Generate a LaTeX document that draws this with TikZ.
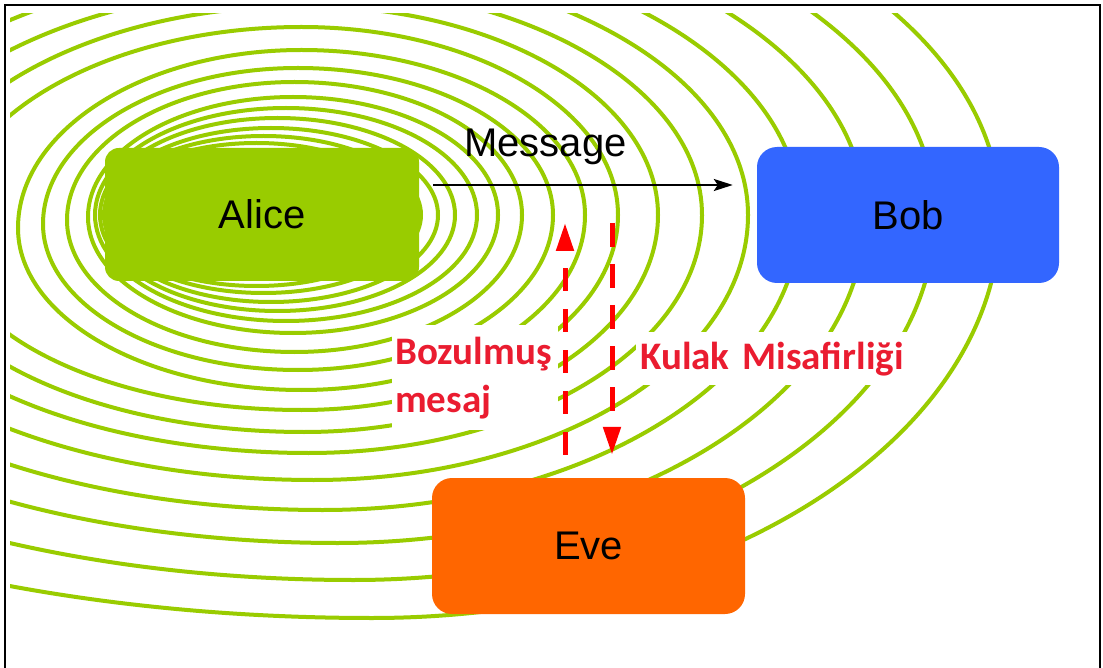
\documentclass[tikz,border=0pt]{standalone}
\usepackage{fontspec}
\setmainfont{Liberation Sans}
\newfontfamily\labelfont{Carlito}
\usetikzlibrary{arrows.meta}

\definecolor{ringgreen}{HTML}{99CC00}
\definecolor{bobblue}{HTML}{3366FF}
\definecolor{eveorange}{HTML}{FF6600}
\definecolor{alertred}{HTML}{FF0000}
\definecolor{labelred}{RGB}{234,28,48}

\tikzset{
  ring/.style={draw=ringgreen, line width=4pt},
  party/.style={inner sep=0pt, text=black, font=\fontsize{40}{48}\selectfont},
  msgarrow/.style={draw=black, line width=2.5pt, -{Stealth[length=19pt,width=12pt,inset=4pt]}},
  tamper/.style={draw=alertred, line width=5pt, -{Triangle[length=28pt,width=17pt]}},
  lbl/.style={fill=white, text=labelred, inner ysep=0pt, align=left,
              font=\labelfont\bfseries\fontsize{39}{48}\selectfont},
  frameline/.style={draw=black, line width=2.5pt, line join=miter}
}

\begin{document}
\begin{tikzpicture}[x=1pt,y=-1pt]
\useasboundingbox (0,0) rectangle (1103,668);
\fill[white] (0,0) rectangle (1103,668);

% ripple rings spreading out from Alice, each built from four quarter ellipses:
% left x / right x / top y / bottom y / x of top and bottom / y of left point;
% the right point of every ring lies at y = 215
\begin{scope}
  \clip (10,14) rectangle (1094,662);
  \foreach \ql/\qr/\qt/\qb/\qc/\qy in {
      108/405/143/286/256.5/215, 106/421/136/293/263.5/215,
      104/438/128/302/271/215,   100/455/118/311/277.5/215,
      95/477/108/321/286/215,    88/498/97/333/293/217,
      67/522/82/352/294.5/220,   43/553/68/370/298/224,
      18/585/50/390/301.5/228,   -54/618/27/410/301.5/234,
      -92/658/6/432/304/234,     -136/702/-14/453/308.5/234,
      -184/748/-36/480/314/234,  -246/800/-59/510/322.5/234,
      -318/865/-86/543/337.5/234, -410/935/-115/580/353.5/234,
      -533/1000/-149/618/372/234}{
    \pgfmathsetmacro\rtr{\qr-\qc}   % right half width
    \pgfmathsetmacro\rtl{\qc-\ql}   % left half width
    \pgfmathsetmacro\hur{215-\qt}   % upper height, right side
    \pgfmathsetmacro\hul{\qy-\qt}   % upper height, left side
    \pgfmathsetmacro\hdl{\qb-\qy}   % lower height, left side
    \pgfmathsetmacro\hdr{\qb-215}   % lower height, right side
    \draw[ring] (\qr,215)
      arc[start angle=0,   end angle=90,  x radius=\rtr pt, y radius=\hur pt]
      arc[start angle=90,  end angle=180, x radius=\rtl pt, y radius=\hul pt]
      arc[start angle=180, end angle=270, x radius=\rtl pt, y radius=\hdl pt]
      arc[start angle=270, end angle=360, x radius=\rtr pt, y radius=\hdr pt]
      -- cycle;
  }
\end{scope}

% labels of the two side channels, on white
\node[lbl, anchor=north west, minimum width=166pt, minimum height=105pt,
      text width=160pt, inner xsep=3pt] (corrupt) at (392,325) {Bozulmuş\\mesaj};
\node[lbl, anchor=north west, minimum width=294pt, minimum height=53pt,
      text width=286pt, inner xsep=4pt] (eavesdrop) at (636,332) {Kulak Misafirliği};

% the three parties
\node[party, fill=ringgreen, minimum width=314pt, minimum height=133pt,
      rounded corners=14pt] (alice) at (262,214.5) {Alice};
\node[party, fill=bobblue, minimum width=302pt, minimum height=136pt,
      rounded corners=20pt] (bob) at (908,215) {Bob};
\node[party, fill=eveorange, minimum width=313pt, minimum height=136pt,
      rounded corners=20pt] (eve) at (588.5,546) {Eve};

% message from Alice to Bob
\coordinate (msgfrom) at ([shift={(14,-29.5)}]alice.east);
\coordinate (msgto) at ([shift={(-24,-30)}]bob.west);
\draw[msgarrow] (msgfrom) -- (msgto);
\node[party, anchor=base] (msg) at (545.5,157) {Message};

% Eve injects a corrupted message and listens in
\coordinate (injectfrom) at ([shift={(-23.5,-23)}]eve.north);
\coordinate (injectto) at (565,223);
\draw[tamper, dash pattern=on 23pt off 18pt] (injectfrom) -- (injectto);
\coordinate (listenfrom) at (612,223);
\coordinate (listento) at ([shift={(23.5,-23)}]eve.north);
\draw[tamper, dash pattern=on 24pt off 17pt] (listenfrom) -- (listento);

% outer frame
\draw[frameline] (5,668) -- (5,5) -- (1100,5) -- (1100,668);
\end{tikzpicture}
\end{document}
